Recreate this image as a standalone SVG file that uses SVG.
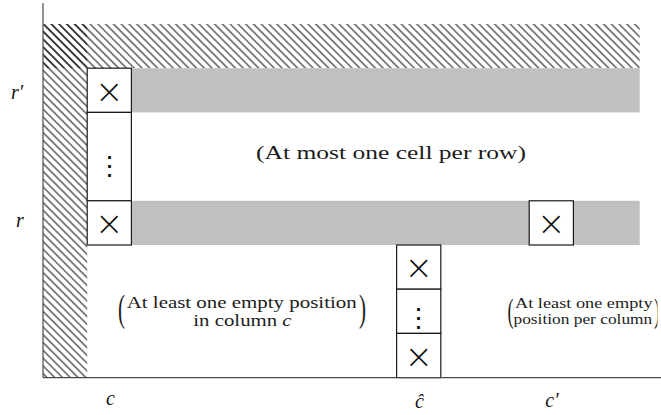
<svg xmlns="http://www.w3.org/2000/svg" width="661" height="415" viewBox="0 0 661 415">
<style>
.cell{fill:#fff;stroke:#1a1a1a;stroke-width:1.2}
.band{fill:#c0c0c0}
.axis{stroke:#4a4a4a;stroke-width:1.2;fill:none}
.x{font-family:"DejaVu Sans",sans-serif;font-weight:200;font-size:34px;text-anchor:middle;fill:#111}
.vd{font-family:"DejaVu Sans",sans-serif;font-weight:200;font-size:27px;text-anchor:middle;fill:#111}
.lbl{font-family:"Liberation Serif",serif;font-style:italic;font-size:20px;text-anchor:middle;fill:#111}
.t{font-family:"Liberation Serif",serif;fill:#1c1c1c}
.it{font-style:italic}
</style>
<defs>
<pattern id="hatch" patternUnits="userSpaceOnUse" width="5.5" height="5.5" patternTransform="rotate(45)">
<line x1="0" y1="2.75" x2="5.5" y2="2.75" stroke="#000" stroke-width="0.95"/>
</pattern>
<clipPath id="clipR"><rect x="0" y="0" width="657.5" height="415"/></clipPath>
</defs>

<g id="hatched-region">
<rect x="43" y="24" width="596.7" height="44.2" fill="url(#hatch)"/>
<rect x="43" y="24" width="44.2" height="353.6" fill="url(#hatch)"/>
</g>

<g id="row-r-prime-band"><rect class="band" x="131.4" y="68.2" width="508.3" height="44.2"/></g>
<g id="row-r-band"><rect class="band" x="131.4" y="200.8" width="508.3" height="44.2"/></g>

<g id="cell-c-rprime">
<rect class="cell" x="87.2" y="68.2" width="44.2" height="44.2"/>
<text class="x" x="109.3" y="102.5">×</text>
</g>
<g id="cell-c-dots">
<rect class="cell" x="87.2" y="112.4" width="44.2" height="88.4"/>
<text class="vd" x="109.3" y="175">⋮</text>
</g>
<g id="cell-c-r">
<rect class="cell" x="87.2" y="200.8" width="44.2" height="44.2"/>
<text class="x" x="109.3" y="235">×</text>
</g>
<g id="cell-cprime-r">
<rect class="cell" x="529.2" y="200.8" width="44.2" height="44.2"/>
<text class="x" x="551.3" y="235">×</text>
</g>
<g id="cell-chat-1">
<rect class="cell" x="396.6" y="245" width="44.2" height="44.2"/>
<text class="x" x="418.7" y="279.3">×</text>
</g>
<g id="cell-chat-dots">
<rect class="cell" x="396.6" y="289.2" width="44.2" height="44.2"/>
<text class="vd" x="418.7" y="327">⋮</text>
</g>
<g id="cell-chat-2">
<rect class="cell" x="396.6" y="333.4" width="44.2" height="44.2"/>
<text class="x" x="418.7" y="367.7">×</text>
</g>

<g id="axes">
<line class="axis" x1="43" y1="3" x2="43" y2="377.6"/>
<line class="axis" x1="43" y1="377.6" x2="661" y2="377.6"/>
</g>

<g id="label-rprime"><text class="lbl" x="17" y="99">r′</text></g>
<g id="label-r"><text class="lbl" x="20" y="226.5">r</text></g>
<g id="label-c"><text class="lbl" x="110.5" y="405">c</text></g>
<g id="label-chat"><text class="lbl" x="419.5" y="407.5">ĉ</text></g>
<g id="label-cprime"><text class="lbl" x="552" y="407">c′</text></g>

<g id="note-row">
<text class="t" x="256" y="159" font-size="19.5" textLength="270" lengthAdjust="spacingAndGlyphs">(At most one cell per row)</text>
</g>

<g id="note-column-c">
<text class="t" x="118" y="320.6" font-size="37" textLength="7" lengthAdjust="spacingAndGlyphs">(</text>
<text class="t" x="126.7" y="307.5" font-size="16.5" textLength="230" lengthAdjust="spacingAndGlyphs">At least one empty position</text>
<text class="t" x="193.3" y="325.5" font-size="16.5" textLength="98.3" lengthAdjust="spacingAndGlyphs">in column <tspan class="it">c</tspan></text>
<text class="t" x="359" y="320.6" font-size="37" textLength="7" lengthAdjust="spacingAndGlyphs">)</text>
</g>

<g id="note-columns" clip-path="url(#clipR)">
<text class="t" x="507.5" y="322" font-size="33" textLength="6" lengthAdjust="spacingAndGlyphs">(</text>
<text class="t" transform="translate(515,308) scale(1.18,1)" x="0" y="0" font-size="15.5">At least one empty</text>
<text class="t" transform="translate(513.5,323.5) scale(1.12,1)" x="0" y="0" font-size="15.5">position per column</text>
<text class="t" x="654" y="322" font-size="33" textLength="6" lengthAdjust="spacingAndGlyphs">)</text>
</g>
</svg>
